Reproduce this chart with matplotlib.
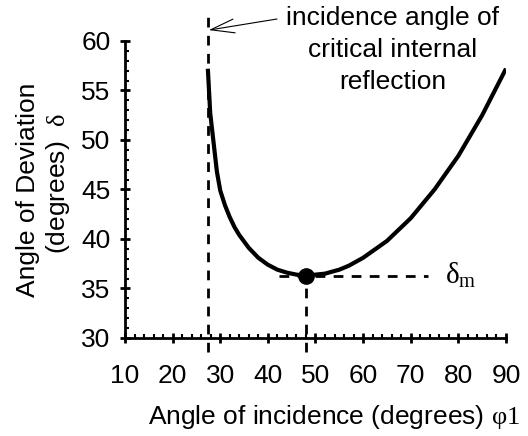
import matplotlib
matplotlib.use("Agg")
import matplotlib.pyplot as plt
from matplotlib.ticker import MultipleLocator

plt.rcParams["font.family"] = ["Liberation Sans", "DejaVu Sans"]
plt.rcParams["mathtext.fontset"] = "custom"
plt.rcParams["mathtext.rm"] = "Liberation Serif"
plt.rcParams["mathtext.it"] = "Liberation Serif"

# angle of incidence (deg) and angle of deviation (deg)
incidence = [27.4, 27.9, 29.3, 30, 31, 32, 33, 34, 36, 38, 40, 42, 44, 46, 48, 50,
             52, 55, 57, 60, 65, 70, 75, 80, 85, 90]
deviation = [57.2, 52.7, 46.8, 44.9, 43.4, 42.2, 41.2, 40.4, 39.1, 38.1, 37.4, 36.9,
             36.6, 36.4, 36.3, 36.4, 36.5, 36.9, 37.3, 38.1, 39.8, 42.1, 45.0, 48.4,
             52.5, 57.2]

critical_angle = 27.5
min_angle = 48
min_dev = 36.3

fig = plt.figure(figsize=(5.28, 4.36), dpi=100)
ax = fig.add_axes([0.2367, 0.2248, 0.7216, 0.6812])

ax.plot(incidence, deviation, color="black", lw=3, solid_capstyle="butt",
        solid_joinstyle="round")
ax.plot([min_angle], [min_dev], "o", color="black", ms=11)

dash = (0, (3.5, 3))
ax.plot([critical_angle, critical_angle], [28.6, 62.9], color="black", lw=2,
        ls=dash, clip_on=False)
ax.plot([min_angle, min_angle], [28.6, min_dev], color="black", lw=2,
        ls=dash, clip_on=False)
ax.plot([42.3, 73.6], [min_dev, min_dev], color="black", lw=2, ls=dash,
        clip_on=False)

ax.set_xlim(10, 90)
ax.set_ylim(30, 60)
ax.xaxis.set_major_locator(MultipleLocator(10))
ax.xaxis.set_minor_locator(MultipleLocator(2))
ax.yaxis.set_major_locator(MultipleLocator(5))
ax.yaxis.set_minor_locator(MultipleLocator(1))

for s in ["top", "right"]:
    ax.spines[s].set_visible(False)
for s in ["left", "bottom"]:
    ax.spines[s].set_linewidth(2)

ax.tick_params(which="major", direction="inout", length=7, width=2, labelsize=19)
ax.tick_params(which="minor", direction="in", length=3, width=1.5)
ax.tick_params(axis="x", which="major", pad=15)
ax.tick_params(axis="y", which="major", pad=7)

ax.text(73.6 + 3.6, min_dev, r"$\delta_\mathrm{m}$", fontsize=21, va="center")

fig.text(28 / 528, 0.565, "Angle of Deviation", rotation=90, fontsize=19,
         ha="center", va="center")
fig.text(58 / 528, 0.58, r"(degrees)  $\delta$", rotation=90, fontsize=19,
         ha="center", va="center")
fig.text(334 / 528, 0.044, r"Angle of incidence (degrees) $\varphi1$", fontsize=19,
         ha="center", va="center")

fig.text(393 / 528, 1 - 50 / 436, "incidence angle of\ncritical internal\nreflection",
         fontsize=19, ha="center", va="center", linespacing=1.42)
ax.annotate("", xy=(critical_angle + 0.1, 61.1), xycoords="data",
            xytext=(277 / 528, 1 - 19 / 436), textcoords="figure fraction",
            arrowprops=dict(arrowstyle="->,head_length=1.7,head_width=0.5",
                            lw=0.8, color="black", shrinkA=0, shrinkB=0),
            annotation_clip=False)

fig.savefig("out.png", dpi=100)
